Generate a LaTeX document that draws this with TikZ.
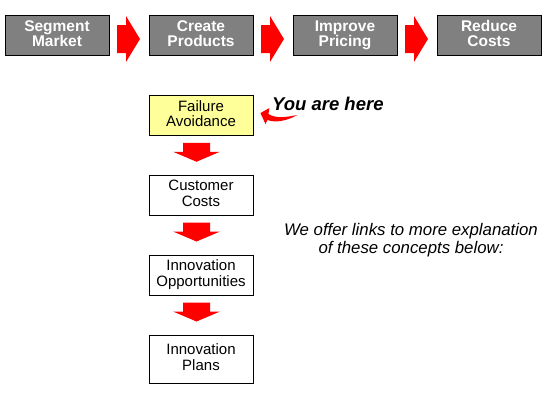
\documentclass[tikz,border=0pt]{standalone}
\usepackage{fontspec}
\setmainfont{Liberation Sans}
\usepackage{tikz}
\usetikzlibrary{calc, positioning}
\definecolor{grayPhase}{RGB}{128,128,128}
\definecolor{yellowHere}{RGB}{255,255,153}
\definecolor{redArrow}{RGB}{255,0,0}

% block arrows between two named boxes
\newcommand{\blockright}[2]{\fill[blockarrow, shift={($(#1.east)!0.5!(#2.west)$)}] (-12,-10) -- (-3,-10) -- (-3,-19) -- (11,4) -- (-3,27) -- (-3,18) -- (-12,18) -- cycle;}
\newcommand{\blockdown}[2]{\fill[blockarrow, shift={($(#1.south)!0.5!(#2.north)$)}] (-18,-12.5) -- (9,-12.5) -- (9,-3.5) -- (19,-3.5) -- (-4.5,6.5) -- (-28,-3.5) -- (-18,-3.5) -- cycle;}

\begin{document}
\begin{tikzpicture}[x=1pt, y=-1pt,
    phasebox/.style={draw=black, fill=grayPhase, line width=1pt, minimum width=104pt, minimum height=40pt, inner sep=0pt, align=center, text=white, font=\fontsize{15.5}{15}\selectfont\bfseries, execute at begin node={\rule{0pt}{12.5pt}}, execute at end node={\rule[-3.5pt]{0pt}{3.5pt}}},
    stepbox/.style={draw=black, fill=white, line width=0.9pt, minimum width=104pt, minimum height=40pt, inner sep=0pt, align=center, font=\fontsize{15}{15.5}\selectfont, execute at begin node={\rule{0pt}{12pt}}, execute at end node={\rule[-3.5pt]{0pt}{3.5pt}}},
    blockarrow/.style={fill=redArrow},
    heretext/.style={inner sep=0pt, font=\fontsize{18.5}{20}\selectfont\bfseries\itshape},
    notetext/.style={inner sep=0pt, align=center, font=\fontsize{16.8}{18}\selectfont\itshape}
]
    \useasboundingbox[fill=white] (0,0) rectangle (558,400);

    \node[phasebox] (p1) at (57, 35) {Segment\\Market};
    \node[phasebox] (p2) at (201, 35) {Create\\Products};
    \node[phasebox] (p3) at (345, 35) {Improve\\Pricing};
    \node[phasebox] (p4) at (489, 35) {Reduce\\Costs};

    \blockright{p1}{p2}
    \blockright{p2}{p3}
    \blockright{p3}{p4}

    \node[stepbox, fill=yellowHere] (s1) at (201, 115.5) {Failure\\Avoidance};
    \node[stepbox] (s2) at (201, 195) {Customer\\Costs};
    \node[stepbox] (s3) at (201, 275) {Innovation\\Opportunities};
    \node[stepbox, minimum height=48pt] (s4) at (201, 359) {Innovation\\Plans};

    \blockdown{s1}{s2}
    \blockdown{s2}{s3}
    \blockdown{s3}{s4}

    \node[heretext, anchor=base west] (here) at (272, 110) {You are here};
    \fill[blockarrow, shift={(s1.east)}] (7,-2.5) -- (16,-7.5) -- (15,-1.5) .. controls (23,3.5) and (33,1.5) .. (44,-0.5) .. controls (33,5.5) and (22,7.5) .. (14,4.5) -- (12,8.5) -- cycle;

    \node[notetext] (note) at (411, 240) {We offer links to more explanation\\of these concepts below:};
\end{tikzpicture}
\end{document}
